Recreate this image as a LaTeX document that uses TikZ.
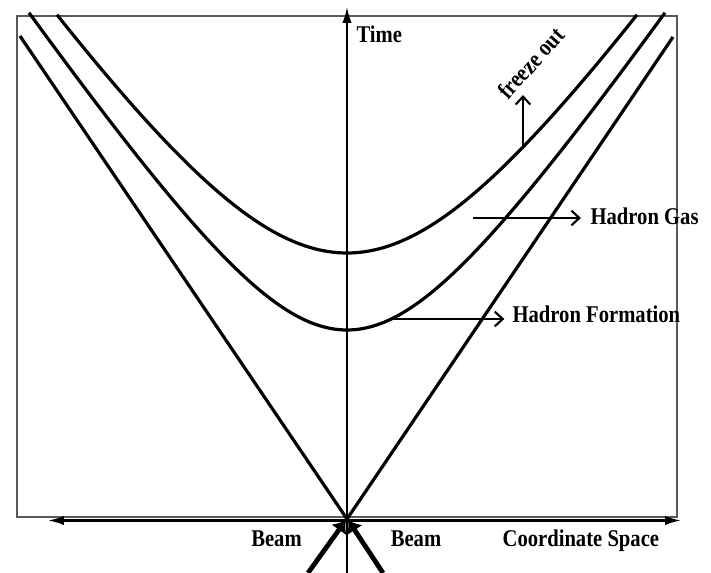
\documentclass[tikz,border=0pt]{standalone}
\usepackage{fontspec}
\setmainfont{Liberation Serif}[FakeStretch=0.86]
\usetikzlibrary{arrows.meta}
\begin{document}
\begin{tikzpicture}[x=7.5pt,y=7.5pt,every node/.style={font=\fontsize{18}{21}\selectfont\bfseries,inner sep=1pt}]
  \useasboundingbox (-34.7,-5.4) rectangle (36.4,51.9);
  \draw[gray!70!black,line width=0.8pt] (-33,0.2) rectangle (33,50.3);
  % axes
  \coordinate (O) at (0,0);
  \coordinate (tbot) at (0,-5.4);
  \coordinate (ttop) at (0,51.2);
  \coordinate (xleft) at (-29.9,-0.15);
  \coordinate (xright) at (33.4,-0.15);
  \draw[line width=1.4pt,-{Latex[length=12pt,width=7pt]}] (tbot) -- (ttop);
  \draw[line width=1.6pt,{Latex[length=12pt,width=7pt]}-{Latex[length=12pt,width=7pt]}] (xleft) -- (xright);
  % light cone
  \coordinate (coneL) at (-32.7,48.3);
  \coordinate (coneR) at (32.6,48.2);
  \draw[line width=2.4pt] (coneL) -- (O) -- (coneR);
  % hyperbolas
  \draw[line width=2.4pt] plot[domain=-31.8:31.8,samples=101,smooth] (\x,{sqrt(18.9^2+(1.477*\x)^2)});
  \draw[line width=2.4pt] plot[domain=-29:29,samples=101,smooth] (\x,{sqrt(26.6^2+(1.477*\x)^2)});
  % beams
  \coordinate (beamL) at (-3.9,-5.4);
  \coordinate (beamR) at (3.6,-5.4);
  \coordinate (hitL) at (-0.1,-0.1);
  \coordinate (hitR) at (0.1,-0.1);
  \draw[line width=3.6pt,-{Latex[length=9pt,width=14pt]}] (beamL) -- (hitL);
  \draw[line width=3.6pt,-{Latex[length=9pt,width=14pt]}] (beamR) -- (hitR);
  % labels
  \node[anchor=base west] (time) at (0.8,47.6) {Time};
  \node[anchor=base west] (space) at (15.4,-2.8) {Coordinate Space};
  \node[anchor=base] (beamtxtL) at (-7.05,-2.8) {Beam};
  \node[anchor=base] (beamtxtR) at (6.9,-2.8) {Beam};
  \node[anchor=base west] (gas) at (24.2,29.4) {Hadron Gas};
  \node[anchor=base west] (form) at (16.4,19.6) {Hadron Formation};
  \node[rotate=48] (frz) at (18.4,45.6) {freeze out};
  \coordinate (gasfrom) at (12.6,30.1);
  \coordinate (formfrom) at (4.6,20.0);
  \coordinate (frzfrom) at (17.6,37.2);
  \coordinate (frzto) at (17.6,42.4);
  \draw[line width=1.6pt,-{Straight Barb[length=6pt,width=11pt]}] (gasfrom) -- (gasfrom -| gas.west) [shorten >=6pt];
  \draw[line width=1.6pt,-{Straight Barb[length=6pt,width=11pt]}] (formfrom) -- (formfrom -| form.west) [shorten >=5pt];
  \draw[line width=1.6pt,-{Straight Barb[length=6pt,width=11pt]}] (frzfrom) -- (frzto);
\end{tikzpicture}
\end{document}
